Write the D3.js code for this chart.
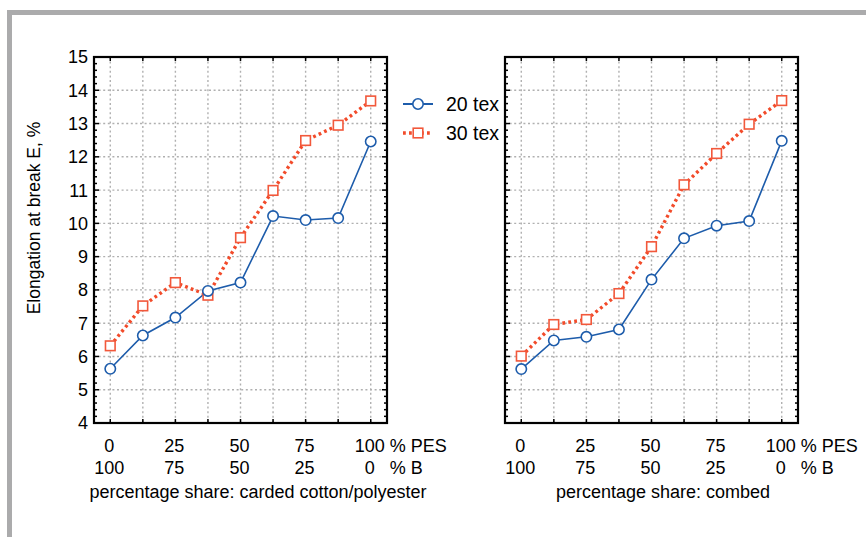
<!DOCTYPE html>
<html>
<head>
<meta charset="utf-8">
<script src="https://cdn.jsdelivr.net/npm/d3@7"></script>
<style>
  body { margin: 0; background: #fff; }
  svg { display: block; font-family: "Liberation Sans", Arial, sans-serif; }
</style>
</head>
<body>
<div id="wrapper"></div>
<script>
// shares of PES, one point every 12.5 %
const pesShare = [0, 12.5, 25, 37.5, 50, 62.5, 75, 87.5, 100]
const pesLabels = ["0", "", "25", "", "50", "", "75", "", "100"]
const bLabels = ["100", "", "75", "", "50", "", "25", "", "0"]
const yTicks = [4, 5, 6, 7, 8, 9, 10, 11, 12, 13, 14, 15]

const seriesNames = ["20 tex", "30 tex"]

// carded cotton/polyester
const carded20 = [5.63, 6.63, 7.17, 7.97, 8.22, 10.22, 10.1, 10.16, 12.46]
const carded30 = [6.32, 7.52, 8.22, 7.84, 9.57, 10.99, 12.49, 12.95, 13.68]

// combed
const combed20 = [5.62, 6.48, 6.59, 6.81, 8.31, 9.55, 9.93, 10.07, 12.48]
const combed30 = [6.01, 6.96, 7.11, 7.89, 9.3, 11.16, 12.1, 12.98, 13.69]

const panels = [
  { left: 94, titleX: 258, title: "percentage share: carded cotton/polyester", yLabels: true, s20: carded20, s30: carded30 },
  { left: 505, titleX: 663, title: "percentage share: combed", yLabels: false, s20: combed20, s30: combed30 }
]

const dimensions = { width: 866, height: 537, plotWidth: 293, top: 57, bottom: 423 }

const blue = "#1d5cab"
const red = "#f24b2a"

const svg = d3.select("#wrapper").append("svg")
  .attr("width", dimensions.width)
  .attr("height", dimensions.height)

// grey frame of the figure
svg.append("rect").attr("x", 7).attr("y", 10).attr("width", 5).attr("height", dimensions.height - 10).attr("fill", "#ababac")
svg.append("rect").attr("x", 7).attr("y", 10).attr("width", dimensions.width - 7).attr("height", 5).attr("fill", "#ababac")

const yScale = d3.scaleLinear().domain([4, 15]).range([dimensions.bottom, dimensions.top])

panels.forEach(panel => {
  const xScale = d3.scaleLinear()
    .domain([-6.25, 106.25])
    .range([panel.left, panel.left + dimensions.plotWidth])
  const x0 = panel.left, x1 = panel.left + dimensions.plotWidth
  const g = svg.append("g")

  // grid
  g.selectAll(".vgrid").data(pesShare).join("line")
    .attr("x1", d => xScale(d)).attr("x2", d => xScale(d))
    .attr("y1", dimensions.top).attr("y2", dimensions.bottom)
    .attr("stroke", "#b0b0b0").attr("stroke-width", 1.4).attr("stroke-dasharray", "2,2.6")
  g.selectAll(".hgrid").data(yTicks.slice(1, -1)).join("line")
    .attr("x1", x0).attr("x2", x1)
    .attr("y1", d => yScale(d)).attr("y2", d => yScale(d))
    .attr("stroke", "#b0b0b0").attr("stroke-width", 1.4).attr("stroke-dasharray", "2,2.6")

  // inward ticks on all four sides
  const minor = d3.range(4, 15.01, 0.2)
  g.selectAll(".ytk").data(minor).join("line")
    .attr("x1", x0).attr("x2", d => x0 + (Math.abs(d - Math.round(d)) < 0.01 ? 5 : 3))
    .attr("y1", d => yScale(d)).attr("y2", d => yScale(d))
    .attr("stroke", "#000").attr("stroke-width", 1.5)
  g.selectAll(".ytk2").data(minor).join("line")
    .attr("x1", x1).attr("x2", d => x1 - (Math.abs(d - Math.round(d)) < 0.01 ? 5 : 3))
    .attr("y1", d => yScale(d)).attr("y2", d => yScale(d))
    .attr("stroke", "#000").attr("stroke-width", 1.5)
  g.selectAll(".xtk").data(pesShare).join("line")
    .attr("x1", d => xScale(d)).attr("x2", d => xScale(d))
    .attr("y1", dimensions.bottom).attr("y2", dimensions.bottom - 4)
    .attr("stroke", "#000").attr("stroke-width", 1.5)
  g.selectAll(".xtk2").data(pesShare).join("line")
    .attr("x1", d => xScale(d)).attr("x2", d => xScale(d))
    .attr("y1", dimensions.top).attr("y2", dimensions.top + 4)
    .attr("stroke", "#000").attr("stroke-width", 1.5)

  g.append("rect")
    .attr("x", x0).attr("y", dimensions.top)
    .attr("width", dimensions.plotWidth).attr("height", dimensions.bottom - dimensions.top)
    .attr("fill", "none").attr("stroke", "#000").attr("stroke-width", 2.2)

  if (panel.yLabels) {
    g.selectAll(".ylab").data(yTicks).join("text")
      .attr("x", x0 - 6).attr("y", d => yScale(d)).attr("dy", "0.36em")
      .attr("text-anchor", "end").attr("font-size", 18)
      .text(d => d)
    svg.append("text")
      .attr("transform", `translate(40, 218) rotate(-90)`)
      .attr("text-anchor", "middle").attr("font-size", 17.5)
      .text("Elongation at break E, %")
  }

  // x labels, two rows
  g.selectAll(".pes").data(pesShare).join("text")
    .attr("x", d => xScale(d) - 1).attr("y", 452)
    .attr("text-anchor", "middle").attr("font-size", 18)
    .text((d, i) => pesLabels[i])
  g.selectAll(".b").data(pesShare).join("text")
    .attr("x", d => xScale(d) - 1).attr("y", 474)
    .attr("text-anchor", "middle").attr("font-size", 18)
    .text((d, i) => bLabels[i])
  g.append("text").attr("x", xScale(100) + 19).attr("y", 452).attr("font-size", 18).text("% PES")
  g.append("text").attr("x", xScale(100) + 19).attr("y", 474).attr("font-size", 18).text("% B")
  g.append("text")
    .attr("x", panel.titleX).attr("y", 498)
    .attr("text-anchor", "middle").attr("font-size", 18)
    .text(panel.title)

  const line = d3.line().x((d, i) => xScale(pesShare[i])).y(d => yScale(d))

  g.append("path").attr("d", line(panel.s30))
    .attr("fill", "none").attr("stroke", red).attr("stroke-width", 3.4)
    .attr("stroke-dasharray", "2.8,3.2")
  g.append("path").attr("d", line(panel.s20))
    .attr("fill", "none").attr("stroke", blue).attr("stroke-width", 1.6)

  g.selectAll(".sq").data(panel.s30).join("rect")
    .attr("x", (d, i) => xScale(pesShare[i]) - 4.8).attr("y", d => yScale(d) - 4.8)
    .attr("width", 9.6).attr("height", 9.6)
    .attr("fill", "#fff").attr("stroke", "#f2583b").attr("stroke-width", 1.6)
  g.selectAll(".ci").data(panel.s20).join("circle")
    .attr("cx", (d, i) => xScale(pesShare[i])).attr("cy", d => yScale(d)).attr("r", 5.2)
    .attr("fill", "#fff").attr("stroke", blue).attr("stroke-width", 1.6)
})

// legend
const legend = svg.append("g")
const legendY = [104, 133]
legend.append("line").attr("x1", 403).attr("x2", 433).attr("y1", legendY[0]).attr("y2", legendY[0])
  .attr("stroke", blue).attr("stroke-width", 2)
legend.append("circle").attr("cx", 418).attr("cy", legendY[0]).attr("r", 5.2)
  .attr("fill", "#fff").attr("stroke", blue).attr("stroke-width", 1.6)
legend.append("line").attr("x1", 403).attr("x2", 433).attr("y1", legendY[1]).attr("y2", legendY[1])
  .attr("stroke", red).attr("stroke-width", 3.4).attr("stroke-dasharray", "2.8,3.2")
legend.append("rect").attr("x", 413.2).attr("y", legendY[1] - 4.8).attr("width", 9.6).attr("height", 9.6)
  .attr("fill", "#fff").attr("stroke", "#f2583b").attr("stroke-width", 1.6)
legend.selectAll(".lt").data(seriesNames).join("text")
  .attr("x", 446).attr("y", (d, i) => legendY[i]).attr("dy", "0.36em")
  .attr("font-size", 19.5)
  .text(d => d)
</script>
</body>
</html>
